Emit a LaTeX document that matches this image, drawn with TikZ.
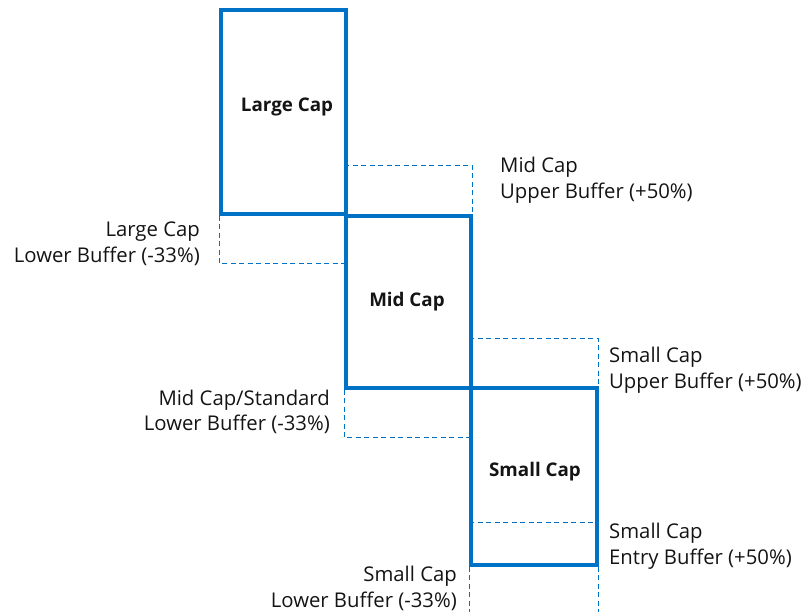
\documentclass[tikz,border=0pt]{standalone}
\usepackage{fontspec}
\setmainfont{Open Sans}
\usepackage{tikz}
\usetikzlibrary{positioning,calc}
\usepackage{xcolor}
\definecolor{capblue}{RGB}{0,114,198}
\definecolor{txt}{RGB}{20,20,20}
\tikzset{
  capbox/.style={rectangle, draw=capblue, line width=3.2pt},
  captxt/.style={font=\fontsize{18.8}{22}\selectfont\bfseries, text=txt},
  buffer/.style={draw=capblue, dashed, line width=1.6pt,
                 dash pattern=on 5pt off 3.5pt},
  lbl/.style={font=\fontsize{20.3}{25.5}\selectfont, text=txt, inner sep=0pt},
}
\begin{document}
\begin{tikzpicture}[x=1pt,y=-1pt]
    \useasboundingbox (0,0) rectangle (805,612);
    % the three cap bands
    \node[capbox, minimum width=125pt, minimum height=204pt] (large) at (283.5,112) {};
    \node[capbox, minimum width=125pt, minimum height=172pt] (mid)   at (408.5,302) {};
    \node[capbox, minimum width=126pt, minimum height=177pt] (small) at (534,476.5) {};
    \node[captxt] (largetxt) at (287,107) {Large Cap};
    \node[captxt] (midtxt)   at (407,302) {Mid Cap};
    \node[captxt] (smalltxt) at (535,472) {Small Cap};
    % buffers around each band
    \draw[buffer] ([yshift=49pt]mid.north west) -| (mid.north east);
    \draw[buffer] (large.south west) |- ([yshift=-48pt]large.south east);
    \draw[buffer] (mid.south west) |- ([yshift=-48pt]mid.south east);
    \draw[buffer] ([yshift=48pt]small.north west) -| (small.north east);
    \draw[buffer] ([yshift=44pt]small.south west) -- ([yshift=44pt]small.south east);
    \draw[buffer] (small.south west) -- ([yshift=-48pt]small.south west);
    \draw[buffer] (small.south east) -- ([yshift=-48pt]small.south east);
    % buffer labels
    \node[lbl, anchor=west, align=left]  (midup)    at (500,180) {Mid Cap\\Upper Buffer (+50\%)};
    \node[lbl, anchor=east, align=right] (largelow) at (200,244) {Large Cap\\Lower Buffer (-33\%)};
    \node[lbl, anchor=west, align=left]  (smallup)  at (609,370) {Small Cap\\Upper Buffer (+50\%)};
    \node[lbl, anchor=east, align=right] (midlow)   at (330,412) {Mid Cap/Standard\\Lower Buffer (-33\%)};
    \node[lbl, anchor=west, align=left]  (smallin)  at (609,546) {Small Cap\\Entry Buffer (+50\%)};
    \node[lbl, anchor=east, align=right] (smalllow) at (457,588.5) {Small Cap\\Lower Buffer (-33\%)};
\end{tikzpicture}
\end{document}
